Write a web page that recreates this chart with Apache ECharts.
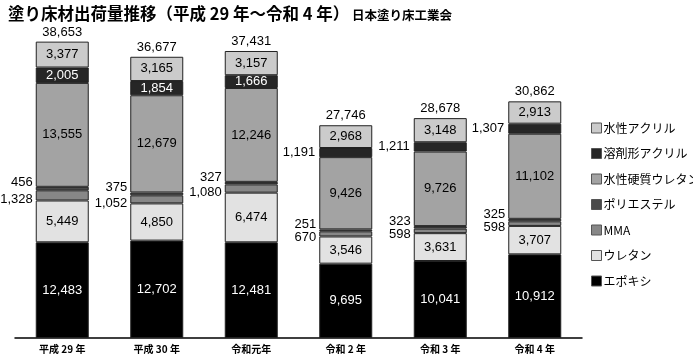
<!DOCTYPE html>
<html>
<head>
<meta charset="utf-8">
<script src="https://cdn.jsdelivr.net/npm/echarts@6/dist/echarts.min.js"></script>
<style>
html,body{margin:0;padding:0;background:#fff;}
#chart{width:693px;height:354px;}
</style>
</head>
<body>
<div id="chart"></div>
<script>
const categories = ['平成 29 年', '平成 30 年', '令和元年', '令和 2 年', '令和 3 年', '令和 4 年'];
const epoxy = [12483, 12702, 12481, 9695, 10041, 10912];
const urethane = [5449, 4850, 6474, 3546, 3631, 3707];
const mma = [1328, 1052, 1080, 670, 598, 598];
const polyester = [456, 375, 327, 251, 323, 325];
const waterHardUrethane = [13555, 12679, 12246, 9426, 9726, 11102];
const solventAcrylic = [2005, 1854, 1666, 1191, 1211, 1307];
const waterAcrylic = [3377, 3165, 3157, 2968, 3148, 2913];
const totals = [38653, 36677, 37431, 27746, 28678, 30862];
const seriesNames = ['エポキシ', 'ウレタン', 'MMA', 'ポリエステル', '水性硬質ウレタン', '溶剤形アクリル', '水性アクリル'];

const NUMFONT = '"Liberation Sans", Arial, "Noto Sans CJK JP", sans-serif';
const JPFONT = '"Noto Sans CJK JP", "Liberation Sans", sans-serif';
const fmt = v => Number(v).toLocaleString('en-US');

function barSeries(name, data, color, labelOpt) {
  return {
    name: name,
    type: 'bar',
    stack: 'total',
    barWidth: 53,
    data: data,
    itemStyle: { color: color, borderColor: '#222', borderWidth: 1 },
    label: Object.assign({
      show: true,
      position: 'inside',
      fontFamily: NUMFONT,
      fontSize: 13,
      color: '#000',
      formatter: p => fmt(p.value)
    }, labelOpt || {}),
    emphasis: { disabled: true }
  };
}

const chart = echarts.init(document.getElementById('chart'), null, { renderer: 'canvas' });
chart.setOption({
  animation: false,
  backgroundColor: '#fff',
  title: {
    left: 3,
    top: 0,
    text: '{a|塗り床材出荷量推移（平成 29 年～令和 4 年）}{b| 日本塗り床工業会}',
    textStyle: {
      rich: {
        a: { fontFamily: JPFONT, fontSize: 16.5, fontWeight: 'bold', color: '#000' },
        b: { fontFamily: JPFONT, fontSize: 12.5, color: '#000', padding: [3, 0, 0, 0] }
      }
    }
  },
  legend: {
    orient: 'vertical',
    left: 586,
    top: 116,
    itemWidth: 10,
    itemHeight: 10,
    itemGap: 11.5,
    icon: 'rect',
    data: seriesNames.slice().reverse(),
    textStyle: { fontFamily: JPFONT, fontSize: 12, color: '#000', lineHeight: 14, padding: [0, 0, 0, -3] },
    itemStyle: { borderColor: '#555', borderWidth: 1 }
  },
  grid: { left: 15, right: 111, top: 31.3, bottom: 15, containLabel: false },
  xAxis: {
    type: 'category',
    data: categories,
    axisLine: { lineStyle: { color: '#000', width: 1.5 } },
    axisTick: { show: false },
    axisLabel: { fontFamily: JPFONT, fontSize: 10, fontWeight: 'bold', color: '#000', margin: 6 }
  },
  yAxis: { type: 'value', min: 0, max: 40000, show: false, splitLine: { show: false } },
  series: [
    barSeries('エポキシ', epoxy, '#000000', { color: '#fff' }),
    barSeries('ウレタン', urethane, '#e2e2e2'),
    barSeries('MMA', mma, '#878787', { position: 'left', distance: 3, offset: [0, 4] }),
    barSeries('ポリエステル', polyester, '#4a4a4a', { position: 'left', distance: 3, offset: [0, -6] }),
    barSeries('水性硬質ウレタン', waterHardUrethane, '#a3a3a3'),
    barSeries('溶剤形アクリル', solventAcrylic.map(v => v < 1500 ? { value: v, label: { position: 'left', color: '#000', distance: 4 } } : v), '#262626', { color: '#fff' }),
    barSeries('水性アクリル', waterAcrylic, '#cbcbcb'),
    {
      name: '合計',
      type: 'scatter',
      data: totals,
      symbol: 'circle',
      symbolSize: 2,
      itemStyle: { color: 'rgba(0,0,0,0)', opacity: 1 },
      label: { show: true, position: 'top', distance: 2, fontFamily: NUMFONT, fontSize: 13, color: '#000', opacity: 1, formatter: p => fmt(p.value) },
      emphasis: { disabled: true },
      z: 5
    }
  ]
});
</script>
</body>
</html>
